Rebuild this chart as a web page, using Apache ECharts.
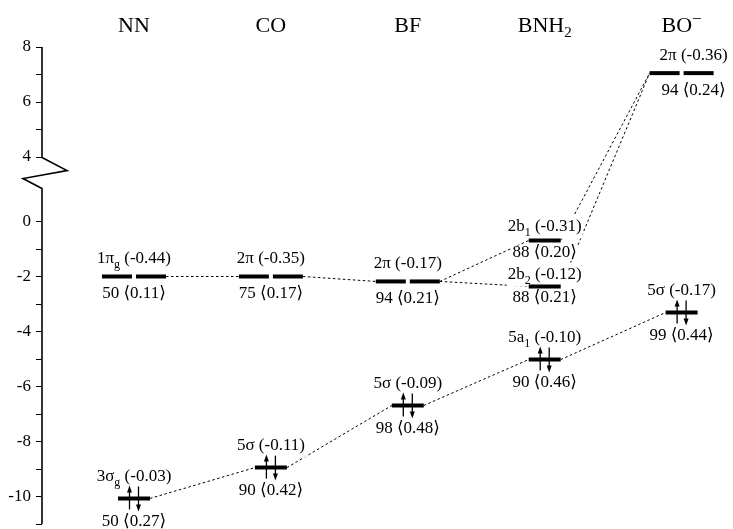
<!DOCTYPE html>
<html><head><meta charset="utf-8">
<script src="https://cdn.jsdelivr.net/npm/echarts@6/dist/echarts.min.js"></script>
<style>html,body{margin:0;padding:0;background:#fff}#c{width:733px;height:529px}</style>
</head><body><div id="c"></div>
<script>
// ---------- data ----------
const molecules = ['NN', 'CO', 'BF', 'BNH2', 'BO-'];
const levelColumn = [0, 1, 2, 3, 3, 4, 0, 1, 2, 3, 4];
const levelEnergy = [-2.0, -2.0, -2.18, -0.69, -2.36, 7.05, -10.07, -8.95, -6.69, -5.02, -3.31];
const levelOrbital = ['1πg', '2π', '2π', '2b1', '2b2', '2π', '3σg', '5σ', '5σ', '5a1', '5σ'];
const levelCharge = [-0.44, -0.35, -0.17, -0.31, -0.12, -0.36, -0.03, -0.11, -0.09, -0.10, -0.17];
const levelPercent = [50, 75, 94, 88, 88, 94, 50, 90, 98, 90, 99];
const levelOverlap = [0.11, 0.17, 0.21, 0.20, 0.21, 0.24, 0.27, 0.42, 0.48, 0.46, 0.44];
const levelDegenerate = [1, 1, 1, 0, 0, 1, 0, 0, 0, 0, 0];
const levelOccupied = [0, 0, 0, 0, 0, 0, 1, 1, 1, 1, 1];
const correlations = [[0, 1], [1, 2], [2, 3], [2, 4], [3, 5], [4, 5], [6, 7], [7, 8], [8, 9], [9, 10]];
const yTickValues = [-11, -10, -9, -8, -7, -6, -5, -4, -3, -2, -1, 0, 4, 5, 6, 7, 8];
const yLabelValues = [-10, -8, -6, -4, -2, 0, 4, 6, 8];
const yRange = [-11, 8];
const yBreak = [0.9, 3.98];
const xRange = [-0.672, 4.317];

// ---------- styling ----------
const SERIF = '"Liberation Serif", "DejaVu Serif", serif';
const labelNudgeX = { 5: 12 };
const labelGapY = { 3: [-14, 12], 4: [-12, 11] };
const richTop = {
  m: { fontFamily: SERIF, fontSize: 17, lineHeight: 24, fill: '#000' },
  s: { fontFamily: SERIF, fontSize: 12, verticalAlign: 'bottom', fill: '#000' }
};
const richBottom = {
  m: { fontFamily: SERIF, fontSize: 17, lineHeight: 14, fill: '#000' }
};
function orbitalRich(s) {
  const m = s.match(/^(\d[πσab])(.*)$/);
  return '{m|' + m[1] + '}' + (m[2] ? '{s|' + m[2] + '}' : '');
}
function moleculeRich(s) {
  const m = s.match(/^([A-Za-z]+?)(\d*)(-?)$/);
  let r = '{m|' + m[1] + '}';
  if (m[2]) r += '{s|' + m[2] + '}';
  if (m[3]) r += '{u|−}';
  return r;
}
function halfWidth(i) { return levelDegenerate[i] ? 32 : 16; }

const chart = echarts.init(document.getElementById('c'), null, { renderer: 'canvas' });

const option = {
  animation: false,
  backgroundColor: '#fff',
  grid: { left: 42, right: 8, top: 47, bottom: 5 },
  xAxis: {
    type: 'value', position: 'top', min: xRange[0], max: xRange[1],
    axisLine: { show: false, onZero: false }, axisTick: { show: false }, splitLine: { show: false },
    axisLabel: {
      customValues: molecules.map((_, i) => i),
      margin: 6,
      formatter: v => moleculeRich(molecules[Math.round(v)]),
      rich: {
        m: { fontFamily: SERIF, fontSize: 22, color: '#000', lineHeight: 30 },
        s: { fontFamily: SERIF, fontSize: 15, color: '#000', verticalAlign: 'bottom' },
        u: { fontFamily: SERIF, fontSize: 17, color: '#000', verticalAlign: 'top' }
      }
    }
  },
  yAxis: {
    type: 'value', min: yRange[0], max: yRange[1],
    breaks: [{ start: yBreak[0], end: yBreak[1], gap: 1.425 }],
    breakArea: { show: false },
    axisLine: { show: false, onZero: false },
    splitLine: { show: false },
    axisTick: { show: true, customValues: yTickValues, length: 6, lineStyle: { color: '#000', width: 1 } },
    axisLabel: {
      customValues: yLabelValues, margin: 11,
      color: '#000', fontFamily: SERIF, fontSize: 17
    }
  },
  series: [
    {
      type: 'custom', name: 'axis', clip: false, z: 3, silent: true,
      data: [[xRange[0], yRange[0]]],
      renderItem: (params, api) => {
        const x = api.coord([xRange[0], 0])[0];
        const yTop = api.coord([xRange[0], yRange[1]])[1];
        const yBot = api.coord([xRange[0], yRange[0]])[1];
        const y4 = api.coord([xRange[0], yBreak[1]])[1];
        return {
          type: 'polyline',
          shape: { points: [[x, yTop], [x, y4], [x + 25, y4 + 13], [x - 19, y4 + 21], [x, y4 + 31], [x, yBot]] },
          style: { stroke: '#000', lineWidth: 1.6, fill: null }
        };
      }
    },
    {
      type: 'custom', name: 'correlation', clip: false, z: 1, silent: true,
      data: correlations.map(([a, b]) => [levelColumn[a], levelEnergy[a], levelColumn[b], levelEnergy[b], a, b]),
      renderItem: (params, api) => {
        const a = api.value(4), b = api.value(5);
        const p1 = api.coord([api.value(0), api.value(1)]);
        const p2 = api.coord([api.value(2), api.value(3)]);
        return {
          type: 'line',
          shape: { x1: p1[0] + halfWidth(a), y1: p1[1], x2: p2[0] - halfWidth(b), y2: p2[1] },
          style: { stroke: '#000', lineWidth: 1, lineDash: [2.5, 2.5] }
        };
      }
    },
    {
      type: 'custom', name: 'levels', clip: false, z: 2, silent: true,
      data: levelEnergy.map((e, i) => [levelColumn[i], e, i]),
      renderItem: (params, api) => {
        const i = api.value(2);
        const p = api.coord([api.value(0), api.value(1)]);
        const cx = p[0], cy = p[1];
        const th = 4;
        const ch = [];
        if (levelDegenerate[i]) {
          ch.push({ type: 'rect', z2: 20, shape: { x: cx - 32, y: cy - th / 2, width: 30, height: th }, style: { fill: '#000' } });
          ch.push({ type: 'rect', z2: 20, shape: { x: cx + 2, y: cy - th / 2, width: 30, height: th }, style: { fill: '#000' } });
        } else {
          ch.push({ type: 'rect', z2: 20, shape: { x: cx - 16, y: cy - th / 2, width: 32, height: th }, style: { fill: '#000' } });
        }
        const occ = levelOccupied[i];
        if (occ) {
          ch.push({ type: 'line', z2: 20, shape: { x1: cx - 4.5, y1: cy + 11, x2: cx - 4.5, y2: cy - 8 }, style: { stroke: '#000', lineWidth: 1.3 } });
          ch.push({ type: 'polygon', z2: 20, shape: { points: [[cx - 4.5, cy - 13], [cx - 7, cy - 6], [cx - 2, cy - 6]] }, style: { fill: '#000' } });
          ch.push({ type: 'line', z2: 20, shape: { x1: cx + 4.5, y1: cy - 12, x2: cx + 4.5, y2: cy + 8 }, style: { stroke: '#000', lineWidth: 1.3 } });
          ch.push({ type: 'polygon', z2: 20, shape: { points: [[cx + 4.5, cy + 13], [cx + 2, cy + 6], [cx + 7, cy + 6]] }, style: { fill: '#000' } });
        }
        const lx = cx + (labelNudgeX[i] || 0);
        const gy = labelGapY[i] || (occ ? [-22, 23] : [-18, 17]);
        const top = orbitalRich(levelOrbital[i]) + '{m| (' + levelCharge[i].toFixed(2) + ')}';
        const bottom = '{m|' + levelPercent[i] + ' ⟨' + levelOverlap[i].toFixed(2) + '⟩}';
        ch.push({
          type: 'text', x: lx, y: cy + gy[0], z2: 5,
          style: { text: top, rich: richTop, align: 'center', verticalAlign: 'middle', backgroundColor: '#fff', padding: [0, 1], fontFamily: SERIF, fontSize: 17, fill: '#000' }
        });
        ch.push({
          type: 'text', x: lx, y: cy + gy[1], z2: 10,
          style: { text: bottom, rich: richBottom, align: 'center', verticalAlign: 'middle', backgroundColor: '#fff', padding: [0, 1], fontFamily: SERIF, fontSize: 17, fill: '#000' }
        });
        return { type: 'group', children: ch };
      }
    }
  ]
};
chart.setOption(option);
</script>
</body></html>
